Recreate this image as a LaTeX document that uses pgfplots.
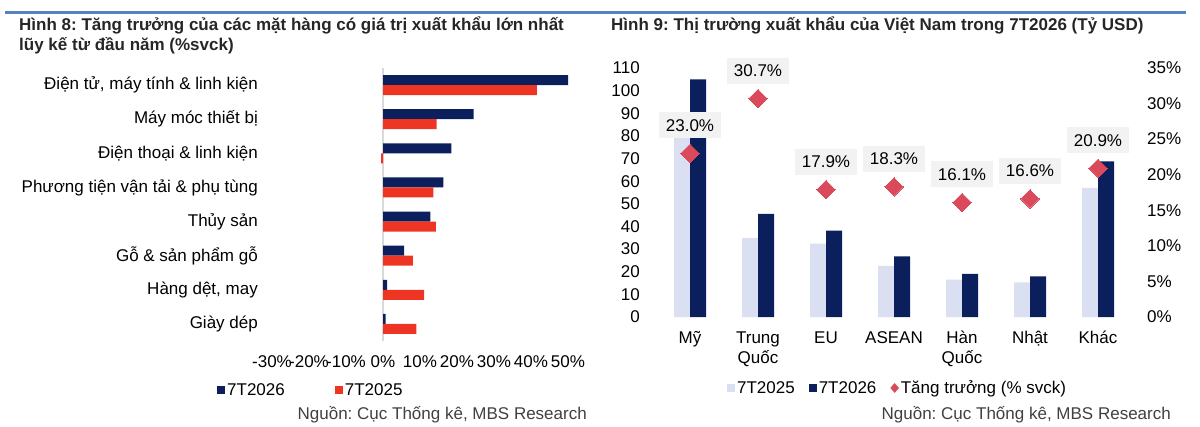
\documentclass[border=0pt]{standalone}
\usepackage{pgfplots}
\pgfplotsset{compat=1.18}
\usepackage{fontspec}
\setmainfont{Liberation Sans}
\frenchspacing
\definecolor{navy}{HTML}{0A1F5C}
\definecolor{redbar}{HTML}{EE3524}
\definecolor{lightbar}{HTML}{DAE0F1}
\definecolor{diam}{HTML}{DB4A5B}
\definecolor{boxgray}{HTML}{F2F2F2}
\definecolor{zerogray}{HTML}{D9D9D9}
\definecolor{topline}{HTML}{5681C1}
\definecolor{titlec}{HTML}{262626}
\definecolor{srcc}{HTML}{404040}
\newcommand{\fs}{\fontsize{17bp}{20bp}\selectfont}

\begin{document}
\begin{tikzpicture}[x=1bp,y=1bp]
\useasboundingbox (0,0) rectangle (1200,426);
\fill[topline] (5,412) rectangle (1186,415);
\node[anchor=base west, inner sep=0pt, font=\bfseries\fs, text=titlec] at (19,395) {Hình 8: Tăng trưởng của các mặt hàng có giá trị xuất khẩu lớn nhất};
\node[anchor=base west, inner sep=0pt, font=\bfseries\fs, text=titlec] at (19,376) {lũy kế từ đầu năm (\%svck)};
\node[anchor=base west, inner sep=0pt, font=\bfseries\fs, text=titlec] at (611,395) {Hình 9: Thị trường xuất khẩu của Việt Nam trong 7T2026 (Tỷ USD)};
\node[anchor=base east, inner sep=0pt, font=\fs, text=srcc] at (587,7) {Nguồn: Cục Thống kê, MBS Research};
\node[anchor=base east, inner sep=0pt, font=\fs, text=srcc] at (1171,7) {Nguồn: Cục Thống kê, MBS Research};

% ---------- Left chart ----------
\begin{axis}[
  at={(272bp,85bp)}, anchor=south west,
  width=296bp, height=273bp, scale only axis,
  xbar, bar width=10bp,
  xmin=-30, xmax=50, ymin=-0.5, ymax=7.5,
  axis line style={draw=none}, tick style={draw=none}, major tick length=0pt,
  xtick={-30,-20,...,50},
  xticklabels={-30\%,-20\%,-10\%,0\%,10\%,20\%,30\%,40\%,50\%},
  xticklabel style={anchor=center, inner sep=0pt, yshift=-21bp, font=\fs},
  ytick={0,...,7},
  yticklabels={Giày dép,{Hàng dệt, may},Gỗ \& sản phẩm gỗ,Thủy sản,Phương tiện vận tải \& phụ tùng,Điện thoại \& linh kiện,Máy móc thiết bị,{Điện tử, máy tính \& linh kiện}},
  yticklabel style={anchor=east, inner sep=0pt, xshift=-14bp, font=\fs},
  extra x ticks={0}, extra x tick labels={},
  extra x tick style={grid=major, major grid style={draw=zerogray, line width=2bp}},
  legend style={at={(axis description cs:-0.1858,-0.1795)}, anchor=west,
    draw=none, fill=none, inner sep=0pt, font=\fs, legend columns=2,
    nodes={inner sep=2bp},
    /tikz/every even column/.append style={column sep=48bp}},
]
\addplot[fill=navy, draw=none, bar shift=5bp,
  legend image code/.code={\fill[navy] (0bp,-4bp) rectangle (8bp,4bp);}]
  coordinates {(0.7,0) (1.1,1) (5.7,2) (12.8,3) (16.3,4) (18.5,5) (24.5,6) (50.0,7)};
\addlegendentry{7T2026}
\addplot[fill=redbar, draw=none, bar shift=-5bp,
  legend image code/.code={\fill[redbar] (0bp,-4bp) rectangle (8bp,4bp);}]
  coordinates {(9.0,0) (11.1,1) (8.1,2) (14.3,3) (13.6,4) (-0.5,5) (14.5,6) (41.6,7)};
\addlegendentry{7T2025}
\end{axis}

% ---------- Right chart: bars ----------
\begin{axis}[
  at={(656bp,109bp)}, anchor=south west,
  width=476bp, height=249bp, scale only axis,
  ybar, bar width=16bp,
  xmin=-0.5, xmax=6.5, ymin=0, ymax=110,
  axis line style={draw=none}, tick style={draw=none}, major tick length=0pt,
  xtick={0,...,6},
  xticklabels={\strut Mỹ,{\strut Trung\\Quốc},\strut EU,\strut ASEAN,{\strut Hàn\\Quốc},\strut Nhật,\strut Khác},
  xticklabel style={align=center, anchor=north, inner sep=0pt, yshift=-12bp, font=\fs},
  ytick={0,10,...,110},
  /pgf/number format/assume math mode=true,
  yticklabel style={anchor=east, inner sep=0pt, xshift=-16bp, font=\fs},
  legend style={at={(axis description cs:0.149,-0.285)}, anchor=west,
    draw=none, fill=none, inner sep=0pt, font=\fs, legend columns=3,
    nodes={inner sep=2bp},
    /tikz/every even column/.append style={column sep=12bp}},
]
\addplot[fill=lightbar, draw=none, bar shift=-8bp,
  legend image code/.code={\fill[lightbar] (0bp,-4bp) rectangle (8bp,4bp);}]
  coordinates {(0,85.4) (1,35.0) (2,32.4) (3,22.6) (4,16.5) (5,15.3) (6,57.0)};
\addlegendentry{7T2025}
\addplot[fill=navy, draw=none, bar shift=8bp,
  legend image code/.code={\fill[navy] (0bp,-4bp) rectangle (8bp,4bp);}]
  coordinates {(0,105.0) (1,45.6) (2,38.2) (3,26.8) (4,19.1) (5,17.9) (6,68.8)};
\addlegendentry{7T2026}
\addlegendimage{legend image code/.code={\fill[diam] (4bp,-4.5bp) -- (8bp,0bp) -- (4bp,4.5bp) -- (0bp,0bp) -- cycle;}}
\addlegendentry{Tăng trưởng (\% svck)}
\end{axis}

% ---------- Right chart: growth ----------
\begin{axis}[
  at={(656bp,109bp)}, anchor=south west,
  width=476bp, height=249bp, scale only axis,
  xmin=-0.5, xmax=6.5, ymin=0, ymax=35,
  hide x axis, axis y line*=right,
  axis line style={draw=none}, tick style={draw=none}, major tick length=0pt,
  ytick={0,5,...,35},
  yticklabel={\pgfmathprintnumber[assume math mode=true]{\tick}\%},
  yticklabel style={anchor=west, inner sep=0pt, xshift=15bp, font=\fs},
]
\addplot[only marks, color=diam, mark=square*, mark size=6.5bp,
  mark options={rotate=45, fill=diam, draw=diam, line width=0pt},
  point meta=y,
  nodes near coords={\pgfmathprintnumber[fixed,fixed zerofill,precision=1,assume math mode=true]{\pgfplotspointmeta}\%},
  every node near coord/.style={anchor=center, yshift=28bp, fill=boxgray, text=black,
    inner xsep=7bp, inner ysep=0pt, minimum height=26bp, font=\fs}]
  coordinates {(0,23.0) (1,30.7) (2,17.9) (3,18.3) (4,16.1) (5,16.6) (6,20.9)};
\end{axis}
\end{tikzpicture}
\end{document}
